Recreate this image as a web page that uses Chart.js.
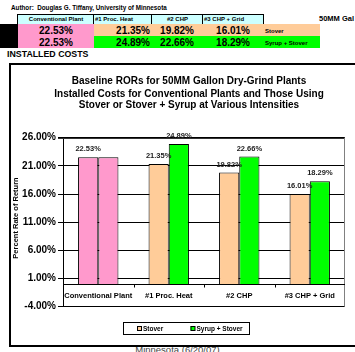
<!DOCTYPE html>
<html>
<head>
<meta charset="utf-8">
<script src="https://cdn.jsdelivr.net/npm/chart.js@4/dist/chart.umd.min.js"></script>
<style>
  body { margin:0; width:355px; height:352px; overflow:hidden; background:#fff; position:relative;
         font-family: Arial, "Liberation Sans", sans-serif; }
  .a { position:absolute; white-space:nowrap; box-sizing:border-box; }
  .hdr { background:#ccffff; border:1.5px solid #000; font-size:6px; font-weight:bold; line-height:8px; padding:0 1px; }
  .val { font-size:10px; font-weight:bold; line-height:12px; }
  .tag { font-size:6px; font-weight:bold; line-height:12px; }
  #frame { left:9px; top:63px; width:380px; height:284px; border:2px solid #000; background:#fff; z-index:2; }
  #foot { left:120px; width:115px; top:344.5px; text-align:center; font-size:9.5px; line-height:10px; color:#444; z-index:1; }
</style>
</head>
<body>
<div class="a" style="left:11px;top:4px;font-size:6.3px;font-weight:bold;line-height:8px;">Author:&nbsp; Douglas G. Tiffany, University of Minnesota</div>
<div class="a" style="left:319px;top:14px;font-size:7.5px;font-weight:bold;line-height:9px;">50MM Gal</div>
<div class="a" style="left:7px;top:49px;font-size:8.8px;font-weight:bold;line-height:10px;">INSTALLED COSTS</div>
<div id="sheet"></div>
<div class="a" id="foot">Minnesota (6/20/07)</div>
<div class="a" id="frame"><canvas id="c" width="356" height="279" style="display:block"></canvas></div>

<script>
// Plant configurations and their baseline rates of return (%)
const categories = ['Conventional Plant', '#1 Proc. Heat', '#2 CHP', '#3 CHP + Grid'];
const seriesNames = ['Stover', 'Syrup + Stover'];
const stoverRor = [22.53, 21.35, 19.82, 16.01];
const syrupStoverRor = [22.53, 24.89, 22.66, 18.29];
const yTickValues = [-4, 1, 6, 11, 16, 21, 26];
const titleLines = [
  'Baseline RORs for 50MM Gallon Dry-Grind Plants',
  'Installed Costs for Conventional Plants and Those Using',
  'Stover or Stover + Syrup at Various Intensities'
];

const PINK = '#ff99cc', ORANGE = '#ffcc99', GREEN = '#00ff00';
const fmt = v => v.toFixed(2) + '%';
const FONT = 'Arial, "Liberation Sans", sans-serif';

// ---- spreadsheet block above the chart ----
const sheet = document.getElementById('sheet');
function box(css, text, cls) {
  const d = document.createElement('div');
  d.className = 'a' + (cls ? ' ' + cls : '');
  d.style.cssText = css;
  if (text !== undefined) d.textContent = text;
  sheet.appendChild(d);
  return d;
}
// header cells: [left, width, align]
const hdrCells = [[17, 78, 'center'], [93, 60, 'left'], [151, 53, 'center'], [202, 62, 'left']];
categories.forEach((name, i) => {
  const [l, w, al] = hdrCells[i];
  box(`left:${l}px;top:14px;width:${w}px;height:10.5px;text-align:${al};`, name, 'hdr');
});
// row backgrounds
box('left:0;top:24px;width:18px;height:24px;background:#000;');
box('left:18px;top:24px;width:76px;height:24px;background:' + PINK + ';');
box('left:94px;top:24px;width:226px;height:12px;background:' + ORANGE + ';');
box('left:94px;top:36px;width:226px;height:12px;background:' + GREEN + ';');
// values: the conventional plant is centred in its cell, others right-aligned
const valRight = [null, 150, 194, 250];
[[stoverRor, 25], [syrupStoverRor, 37]].forEach(([arr, top], r) => {
  arr.forEach((v, i) => {
    if (i === 0) box(`left:18px;top:${top}px;width:76px;text-align:center;`, fmt(v), 'val');
    else box(`left:${valRight[i] - 60}px;top:${top}px;width:60px;text-align:right;`, fmt(v), 'val');
  });
  box(`left:265px;top:${top}px;`, seriesNames[r], 'tag');
});

// ---- chart ----
const barColors = [
  categories.map((c, i) => i === 0 ? PINK : ORANGE),
  categories.map((c, i) => i === 0 ? PINK : GREEN)
];
const legendColors = [ORANGE, GREEN];

const decor = {
  id: 'decor',
  afterDatasetsDraw(chart) {
    const ctx = chart.ctx, a = chart.chartArea;
    const x = chart.scales.x, y = chart.scales.y;
    ctx.save();

    // top and right edges of the plot area
    ctx.lineWidth = 1;
    ctx.strokeStyle = '#333';
    ctx.beginPath(); ctx.moveTo(a.left - 5, Math.round(a.top) + 0.5); ctx.lineTo(a.right, Math.round(a.top) + 0.5); ctx.stroke();
    ctx.strokeStyle = '#808080';
    ctx.beginPath(); ctx.moveTo(a.right - 0.5, a.top); ctx.lineTo(a.right - 0.5, a.bottom); ctx.stroke();

    // category axis at zero with boundary ticks
    const y0 = Math.round(y.getPixelForValue(0)) + 0.5;
    ctx.strokeStyle = '#000';
    ctx.beginPath(); ctx.moveTo(a.left, y0); ctx.lineTo(a.right, y0);
    const step = (a.right - a.left) / categories.length;
    for (let i = 1; i < categories.length; i++) {
      const bx = Math.round(a.left + step * i) + 0.5;
      ctx.moveTo(bx, y0); ctx.lineTo(bx, y0 + 3);
    }
    ctx.stroke();

    // category names between zero and the bottom of the axis
    const ym = (y.getPixelForValue(0) + y.getPixelForValue(yTickValues[0])) / 2;
    ctx.fillStyle = '#000'; ctx.font = 'bold 7.5px ' + FONT;
    ctx.textAlign = 'center'; ctx.textBaseline = 'middle';
    categories.forEach((c, i) => ctx.fillText(c, x.getPixelForValue(i), ym + 0.5));

    // value labels above bars (the conventional plant carries one label)
    ctx.font = 'bold 7.5px ' + FONT; ctx.fillStyle = '#222';
    chart.data.datasets.forEach((ds, di) => {
      const meta = chart.getDatasetMeta(di);
      meta.data.forEach((bar, i) => {
        if (di === 1 && i === 0) return;
        ctx.fillText(fmt(ds.data[i]), bar.x, bar.y - 8);
      });
    });

    // title
    ctx.fillStyle = '#000'; ctx.font = 'bold 10px ' + FONT;
    const cx = chart.width / 2;
    [16.7, 29, 40.7].forEach((ty, i) => ctx.fillText(titleLines[i], cx, ty));

    // y axis title
    ctx.save();
    ctx.translate(4.5, 153); ctx.rotate(-Math.PI / 2);
    ctx.font = 'bold 7.5px ' + FONT;
    ctx.fillText('Percent Rate of Return', 0, 0);
    ctx.restore();

    // legend box
    const lx = 112, ly = 257, lw = 126, lh = 12;
    ctx.strokeStyle = '#000'; ctx.lineWidth = 1;
    ctx.strokeRect(lx + 0.5, ly + 0.5, lw, lh);
    ctx.font = 'bold 6.5px ' + FONT; ctx.textAlign = 'left';
    const itemX = [126, 179.5];
    seriesNames.forEach((n, i) => {
      ctx.fillStyle = legendColors[i];
      ctx.fillRect(itemX[i], ly + 4, 4.5, 4.5);
      ctx.strokeRect(itemX[i] + 0.5, ly + 4.5, 4, 4);
      ctx.fillStyle = '#000';
      ctx.fillText(n, itemX[i] + 6, ly + 6.8);
    });
    ctx.restore();
  }
};

new Chart(document.getElementById('c'), {
  type: 'bar',
  data: {
    labels: categories,
    datasets: [
      { label: seriesNames[0], data: stoverRor, backgroundColor: barColors[0] },
      { label: seriesNames[1], data: syrupStoverRor, backgroundColor: barColors[1] }
    ]
  },
  options: {
    responsive: false,
    animation: false,
    events: [],
    layout: { padding: { left: 0, top: 72.7, right: 22, bottom: 37.3 } },
    datasets: { bar: { categoryPercentage: 0.573, barPercentage: 1, borderColor: '#000', borderWidth: 1 } },
    plugins: { legend: { display: false }, title: { display: false }, tooltip: { enabled: false } },
    scales: {
      x: { display: false },
      y: {
        min: yTickValues[0], max: yTickValues[yTickValues.length - 1],
        afterBuildTicks: s => { s.ticks = yTickValues.map(v => ({ value: v })); },
        afterFit: s => { s.width = 52; },
        grid: { color: '#000', lineWidth: 1, tickLength: 5, tickColor: '#000' },
        border: { display: true, color: '#000', width: 1 },
        ticks: { color: '#000', padding: 2, font: { family: FONT, size: 10, weight: 'bold' },
                 callback: v => fmt(v) }
      }
    }
  },
  plugins: [decor]
});
</script>
</body>
</html>
